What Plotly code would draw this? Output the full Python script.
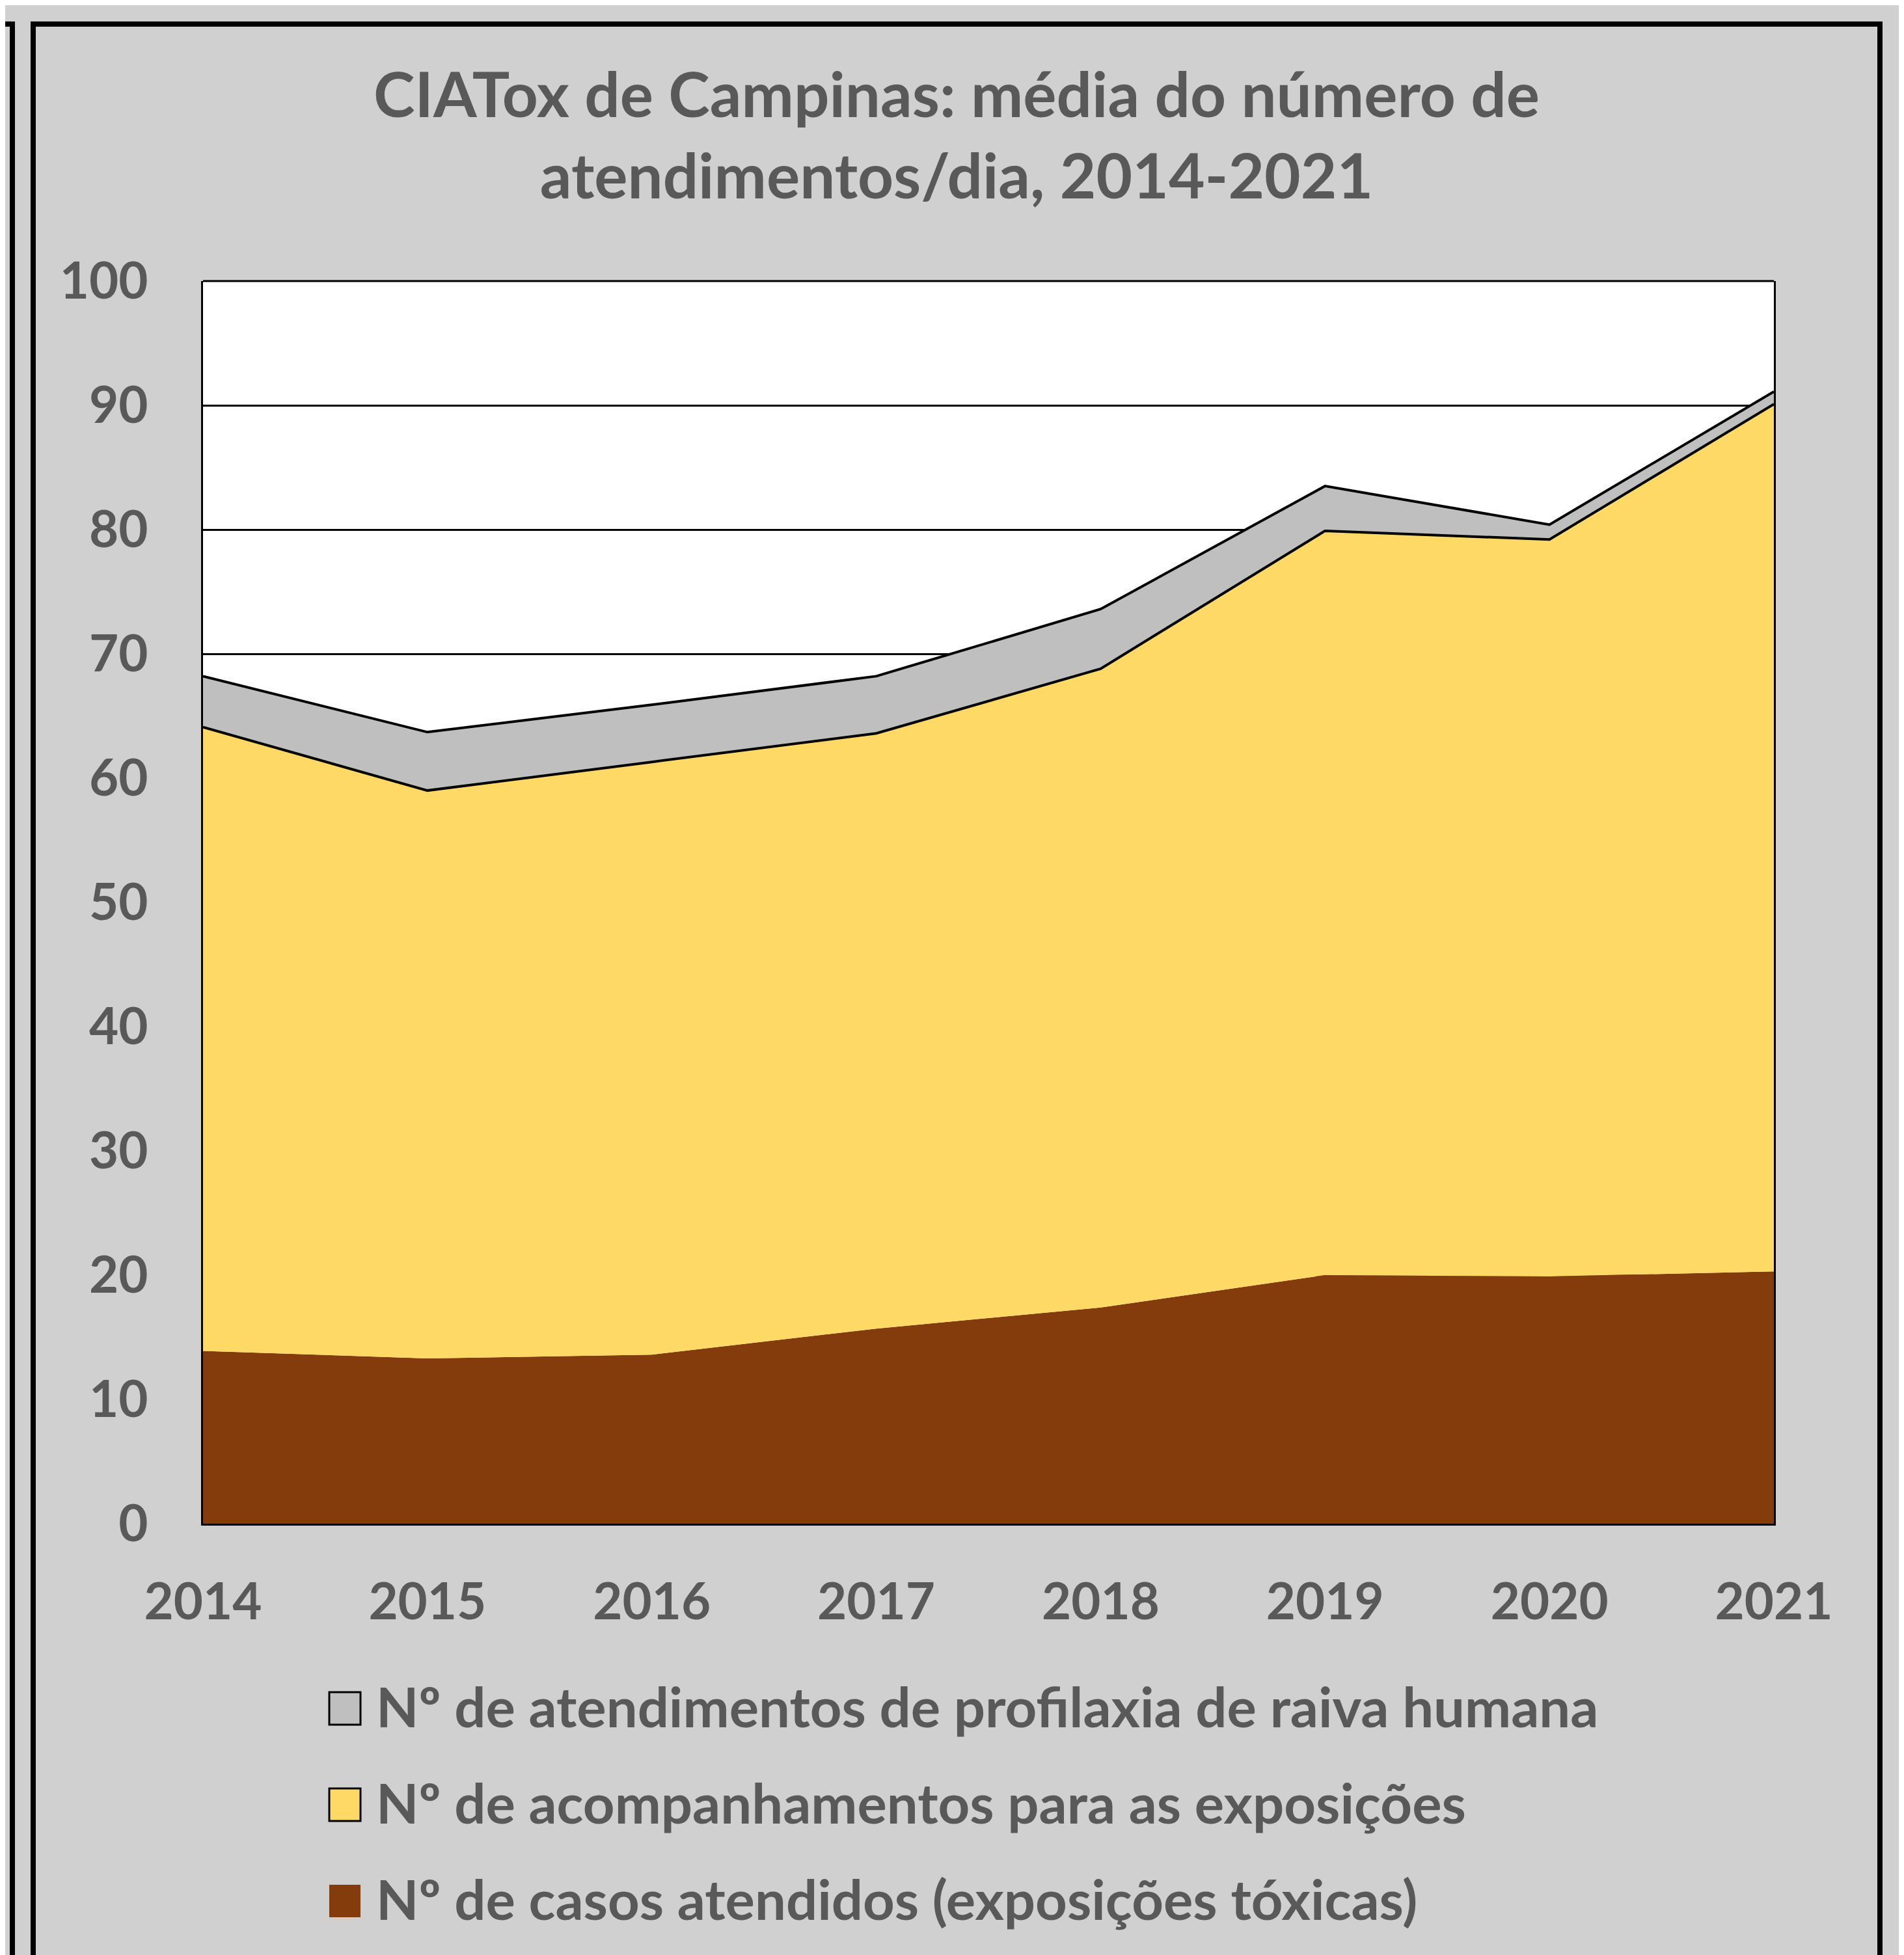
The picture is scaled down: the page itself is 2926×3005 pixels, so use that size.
import plotly.graph_objects as go

# dados (média de atendimentos/dia)
anos = [2014, 2015, 2016, 2017, 2018, 2019, 2020, 2021]
casos = [13.9, 13.3, 13.6, 15.7, 17.4, 20.0, 19.9, 20.3]
acompanhamentos = [50.2, 45.7, 47.7, 47.9, 51.4, 59.9, 59.3, 69.8]
profilaxia = [4.1, 4.7, 4.6, 4.6, 4.8, 3.6, 1.2, 1.0]

nomes = [
    "Nº de casos atendidos (exposições tóxicas)",
    "Nº de acompanhamentos para as exposições",
    "Nº de atendimentos de profilaxia de raiva humana",
]
cores = ["#843C0C", "#FFD966", "#BFBFBF"]
y_ticks = list(range(0, 101, 10))

W, H = 2926, 3005
OFF = 8  # margem padrão do <body> no navegador
L, R, T, B = 312 - OFF, 2726 - OFF, 432 - OFF, 2342 - OFF
FONTE = "Lato, 'Open Sans', sans-serif"
CINZA = "#595959"


def px(x):
    return (x - OFF - L) / (R - L)


def py(y):
    return (B - (y - OFF)) / (B - T)


fig = go.Figure()
for serie, nome, cor in zip([casos, acompanhamentos, profilaxia], nomes, cores):
    contorno = 0 if cor == "#843C0C" else 4
    fig.add_trace(go.Scatter(
        x=anos, y=serie, name=nome, mode="lines", stackgroup="um",
        fillcolor=cor, line=dict(color="black", width=contorno),
        showlegend=False,
    ))

shapes = []
# moldura do painel e do painel vizinho
shapes.append(dict(type="rect", xref="paper", yref="paper",
                   x0=px(51), x1=px(2889), y0=py(37), y1=py(3150),
                   line=dict(color="black", width=8)))
shapes.append(dict(type="rect", xref="paper", yref="paper",
                   x0=px(-200), x1=px(19), y0=py(37), y1=py(3150),
                   line=dict(color="black", width=8)))
# borda superior da área do gráfico
shapes.append(dict(type="line", xref="paper", yref="paper",
                   x0=0, x1=1, y0=1, y1=1, line=dict(color="black", width=3)))

# legenda desenhada à mão (quadrados grandes)
annotations = []
leg_y = [2626, 2774, 2922]
for i, (nome, cor) in enumerate(zip(nomes[::-1], cores[::-1])):
    yc = leg_y[i]
    borda = dict(color="black", width=3) if cor != "#843C0C" else dict(width=0)
    shapes.append(dict(type="rect", xref="paper", yref="paper",
                       x0=px(506), x1=px(554), y0=py(yc - 25), y1=py(yc + 25),
                       fillcolor=cor, line=borda))
    annotations.append(dict(text=nome, xref="paper", yref="paper",
                            x=px(576), y=py(yc - 4), xanchor="left", yanchor="middle",
                            showarrow=False,
                            font=dict(family=FONTE, size=85, color=CINZA, weight="bold")))

fig.update_layout(
    width=W, height=H,
    margin=dict(l=L, r=W - R, t=T, b=H - B),
    paper_bgcolor="#D0D0D0",
    plot_bgcolor="white",
    title=dict(
        text="CIATox de Campinas: média do número de<br>atendimentos/dia, 2014-2021",
        x=(1470 - OFF) / W, xanchor="center", y=1 - 172 / H, yanchor="top",
        font=dict(family=FONTE, size=96, color=CINZA, weight="bold"),
    ),
    shapes=shapes,
    annotations=annotations,
    showlegend=False,
)

fig.update_xaxes(
    range=[2014, 2021], tickvals=anos, ticktext=[str(a) for a in anos],
    showgrid=False, zeroline=False, showline=True, linecolor="black", linewidth=3,
    ticks="", ticklabelstandoff=50,
    tickfont=dict(family=FONTE, size=78, color=CINZA, weight="bold"),
)
fig.update_yaxes(
    range=[0, 100], tickvals=y_ticks,
    showgrid=True, gridcolor="black", gridwidth=3, zeroline=False,
    showline=True, mirror=True, linecolor="black", linewidth=3,
    ticks="", ticklabelstandoff=66,
    tickfont=dict(family=FONTE, size=78, color=CINZA, weight="bold"),
)

fig.write_html("out.html")
